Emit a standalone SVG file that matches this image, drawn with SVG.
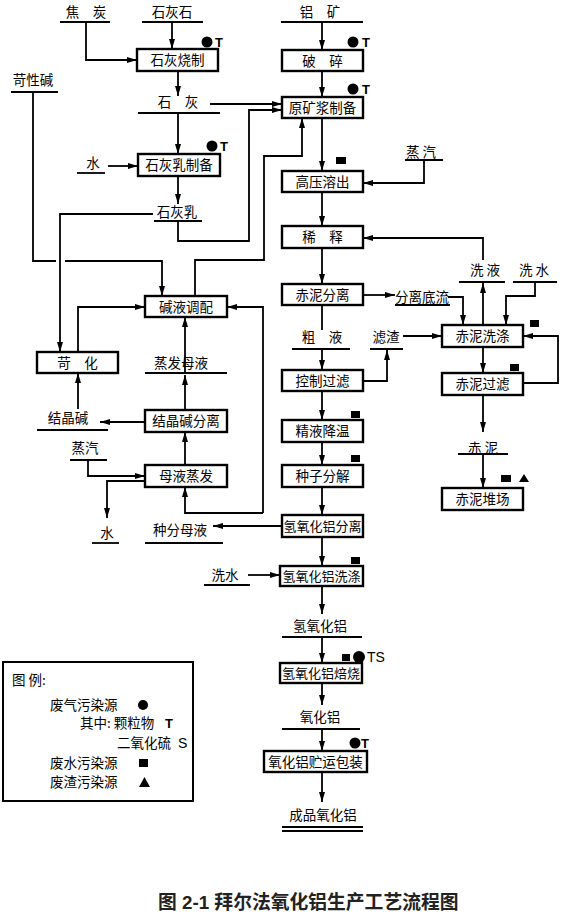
<svg xmlns="http://www.w3.org/2000/svg" width="562" height="914" viewBox="0 0 562 914">
<defs>
<marker id="a" markerWidth="10" markerHeight="8" refX="10" refY="4" orient="auto" markerUnits="userSpaceOnUse"><path d="M0,1 L10,4 L0,7 Z" fill="#000"/></marker>
<style>
.box{fill:#fff;stroke:#000;stroke-width:2.4}
.ln{fill:none;stroke:#000;stroke-width:1.8}
.ul{fill:none;stroke:#000;stroke-width:1.8}
.t{font-family:"Noto Sans CJK SC","Noto Sans CJK JP",sans-serif;font-size:13.5px;text-anchor:middle;fill:#000}
.s{font-size:13px}
.l{font-family:"Noto Sans CJK SC",sans-serif;font-size:13.5px;fill:#000}
.m{font-family:"Liberation Sans",Arial,sans-serif;font-size:13px;font-weight:bold;fill:#000}
.cap{font-family:"Liberation Sans","Noto Sans CJK SC",sans-serif;font-size:18.8px;font-weight:bold;fill:#222}
</style>
</defs>
<rect width="562" height="914" fill="#fff"/>

<g id="connectors" class="ln">
<path d="M86,22 V60 H137" marker-end="url(#a)"/>
<path d="M172,22 V49" marker-end="url(#a)"/>
<path d="M178,71 V96" marker-end="url(#a)"/>
<path d="M210,104 H282" marker-end="url(#a)"/>
<path d="M178,113 V154" marker-end="url(#a)"/>
<path d="M108,166 H138" marker-end="url(#a)"/>
<path d="M178,176 V204" marker-end="url(#a)"/>
<path d="M178,221 V241 H249 V110 H282" marker-end="url(#a)"/>
<path d="M153,214 H60 V352" marker-end="url(#a)"/>
<path d="M33,92 V261 H56 M65,261 H162 V296" marker-end="url(#a)"/>
<path d="M195,296 V260 H264 V156 H302 V118" marker-end="url(#a)"/>
<path d="M78,352 V307 H145" marker-end="url(#a)"/>
<path d="M263,513 V307 H227" marker-end="url(#a)"/>
<path d="M263,513 H185 V487" marker-end="url(#a)"/>
<path d="M185,373 V317" marker-end="url(#a)"/>
<path d="M185,410 V375" marker-end="url(#a)"/>
<path d="M185,465 V432" marker-end="url(#a)"/>
<path d="M145,422 H100" marker-end="url(#a)"/>
<path d="M78,409 V373" marker-end="url(#a)"/>
<path d="M88,460 V476 H145" marker-end="url(#a)"/>
<path d="M145,481 H107 V518" marker-end="url(#a)"/>
<path d="M282,526 H213" marker-end="url(#a)"/>
<path d="M322,22 V50" marker-end="url(#a)"/>
<path d="M322,71 V97" marker-end="url(#a)"/>
<path d="M322,118 V171" marker-end="url(#a)"/>
<path d="M424,160 V183 H363" marker-end="url(#a)"/>
<path d="M322,192 V226" marker-end="url(#a)"/>
<path d="M483,260 V238 H363" marker-end="url(#a)"/>
<path d="M322,248 V284" marker-end="url(#a)"/>
<path d="M363,295 H395" marker-end="url(#a)"/>
<path d="M448,297 H463 V325" marker-end="url(#a)"/>
<path d="M483,325 V283" marker-end="url(#a)"/>
<path d="M535,282 V296 H506 V325" marker-end="url(#a)"/>
<path d="M322,305 V330"/>
<path d="M322,349 V370" marker-end="url(#a)"/>
<path d="M363,381 H387 V350" marker-end="url(#a)"/>
<path d="M403,336 H442" marker-end="url(#a)"/>
<path d="M483,347 V373" marker-end="url(#a)"/>
<path d="M523,383 H558 V336 H523" marker-end="url(#a)"/>
<path d="M322,391 V420" marker-end="url(#a)"/>
<path d="M322,442 V465" marker-end="url(#a)"/>
<path d="M322,487 V515" marker-end="url(#a)"/>
<path d="M322,537 V566" marker-end="url(#a)"/>
<path d="M248,575 H280" marker-end="url(#a)"/>
<path d="M322,586 V614" marker-end="url(#a)"/>
<path d="M322,637 V663" marker-end="url(#a)"/>
<path d="M322,683 V705" marker-end="url(#a)"/>
<path d="M322,729 V751" marker-end="url(#a)"/>
<path d="M322,772 V802" marker-end="url(#a)"/>
<path d="M483,395 V432" marker-end="url(#a)"/>
<path d="M483,454 V488" marker-end="url(#a)"/>
</g>

<g id="labels">
<g id="l-jiaotan"><path class="ul" d="M60,22 H110"/><text class="t" x="86" y="17">焦　炭</text></g>
<g id="l-shihuishi"><path class="ul" d="M142,22 H203"/><text class="t" x="172" y="17">石灰石</text></g>
<g id="l-lvkuang"><path class="ul" d="M281,22 H363"/><text class="t" x="320" y="17">铝　矿</text></g>
<g id="l-kexingjian"><path class="ul" d="M11,92 H58"/><text class="t" x="33" y="85">苛性碱</text></g>
<g id="l-shihui"><path class="ul" d="M138,113 H220"/><text class="t" x="178" y="107">石　灰</text></g>
<g id="l-shui1"><path class="ul" d="M77,173 H105"/><text class="t" x="93" y="168">水</text></g>
<g id="l-shihuiru"><path class="ul" d="M154,221 H202"/><text class="t" x="177" y="217">石灰乳</text></g>
<g id="l-zhengqi1"><path class="ul" d="M405,160 H443"/><text class="t" x="421" y="157">蒸 汽</text></g>
<g id="l-xiye"><path class="ul" d="M459,282 H505"/><text class="t" x="485" y="275">洗 液</text></g>
<g id="l-xishui1"><path class="ul" d="M513,282 H557"/><text class="t" x="534" y="275">洗 水</text></g>
<g id="l-fenlidiliu"><path class="ul" d="M395,305 H450"/><text class="t" x="422" y="302">分离底流</text></g>
<g id="l-cuye"><path class="ul" d="M292,349 H350"/><text class="t" x="322" y="342">粗　液</text></g>
<g id="l-lvzha"><path class="ul" d="M370,349 H403"/><text class="t" x="386" y="342">滤渣</text></g>
<g id="l-zhengfamuye"><path class="ul" d="M145,373 H227"/><text class="t" x="181" y="368">蒸发母液</text></g>
<g id="l-jiejingjian"><path class="ul" d="M37,430 H108"/><text class="t" x="68" y="423">结晶碱</text></g>
<g id="l-zhengqi2"><path class="ul" d="M70,460 H107"/><text class="t" x="85" y="453">蒸汽</text></g>
<g id="l-chini"><path class="ul" d="M458,454 H508"/><text class="t" x="483" y="453">赤 泥</text></g>
<g id="l-shui2"><path class="ul" d="M92,543 H119"/><text class="t" x="107" y="538">水</text></g>
<g id="l-zhongfenmuye"><path class="ul" d="M145,543 H223"/><text class="t" x="180" y="535">种分母液</text></g>
<g id="l-xishui2"><path class="ul" d="M204,585 H250"/><text class="t" x="225" y="580">洗水</text></g>
<g id="l-qyhl"><path class="ul" d="M282,637 H362"/><text class="t" x="320" y="631">氢氧化铝</text></g>
<g id="l-yhl"><path class="ul" d="M282,729 H360"/><text class="t" x="320" y="722">氧化铝</text></g>
<g id="l-chengpin"><path class="ul" d="M282,827 H363 M282,831 H363"/><text class="t" x="323" y="820">成品氧化铝</text></g>
</g>

<g id="nodes">
<g id="n-shihuishaozhi"><rect class="box" x="137" y="49" width="81" height="22"/><text class="t" x="177.5" y="65">石灰烧制</text></g>
<g id="n-posui"><rect class="box" x="282" y="50" width="81" height="21"/><text class="t" x="322.5" y="65.5">破　碎</text></g>
<g id="n-yuankuangjiang"><rect class="box" x="282" y="97" width="81" height="21"/><text class="t" x="322.5" y="112.5">原矿浆制备</text></g>
<g id="n-shihuiru"><rect class="box" x="138" y="154" width="82" height="22"/><text class="t" x="179" y="170">石灰乳制备</text></g>
<g id="n-gaoya"><rect class="box" x="282" y="171" width="81" height="21"/><text class="t" x="322.5" y="186.5">高压溶出</text></g>
<g id="n-xishi"><rect class="box" x="282" y="226" width="81" height="22"/><text class="t" x="322.5" y="242">稀　释</text></g>
<g id="n-chinifenli"><rect class="box" x="282" y="284" width="81" height="21"/><text class="t" x="322.5" y="299.5">赤泥分离</text></g>
<g id="n-jianyetiaopei"><rect class="box" x="145" y="296" width="82" height="21"/><text class="t" x="186" y="311.5">碱液调配</text></g>
<g id="n-chinixidi"><rect class="box" x="442" y="325" width="81" height="22"/><text class="t" x="482.5" y="341">赤泥洗涤</text></g>
<g id="n-kehua"><rect class="box" x="37" y="352" width="81" height="21"/><text class="t" x="77.5" y="367.5">苛　化</text></g>
<g id="n-kongzhiguolv"><rect class="box" x="282" y="370" width="81" height="21"/><text class="t" x="322.5" y="385.5">控制过滤</text></g>
<g id="n-chiniguolv"><rect class="box" x="442" y="373" width="81" height="22"/><text class="t" x="482.5" y="389">赤泥过滤</text></g>
<g id="n-jiejingjianfenli"><rect class="box" x="145" y="410" width="82" height="22"/><text class="t" x="186" y="426">结晶碱分离</text></g>
<g id="n-jingyejiangwen"><rect class="box" x="282" y="420" width="81" height="22"/><text class="t" x="322.5" y="436">精液降温</text></g>
<g id="n-muyezhengfa"><rect class="box" x="145" y="465" width="82" height="22"/><text class="t" x="186" y="481">母液蒸发</text></g>
<g id="n-zhongzifenjie"><rect class="box" x="282" y="465" width="81" height="22"/><text class="t" x="322.5" y="481">种子分解</text></g>
<g id="n-chiniduichang"><rect class="box" x="442" y="488" width="81" height="22"/><text class="t" x="482.5" y="504">赤泥堆场</text></g>
<g id="n-qyhlfenli"><rect class="box" x="282" y="515" width="81" height="22"/><text class="t s" x="322.5" y="531">氢氧化铝分离</text></g>
<g id="n-qyhlxidi"><rect class="box" x="280" y="566" width="83" height="20"/><text class="t s" x="321.5" y="581">氢氧化铝洗涤</text></g>
<g id="n-qyhlbeishao"><rect class="box" x="280" y="663" width="82" height="20"/><text class="t s" x="321" y="678">氢氧化铝焙烧</text></g>
<g id="n-zhuyunbaozhuang"><rect class="box" x="264" y="751" width="103" height="21"/><text class="t" x="315.5" y="766.5">氧化铝贮运包装</text></g>
</g>

<g id="pollution">
<circle cx="207" cy="42" r="5.5"/><text class="m" x="215" y="47">T</text>
<circle cx="212" cy="146" r="5.5"/><text class="m" x="220" y="151">T</text>
<circle cx="353" cy="42" r="5.5"/><text class="m" x="362" y="47">T</text>
<circle cx="353" cy="89" r="5.5"/><text class="m" x="362" y="94">T</text>
<rect x="336" y="157" width="10" height="7"/>
<rect x="530" y="320" width="9" height="7"/>
<rect x="510" y="364" width="9" height="7"/>
<rect x="351" y="411" width="9" height="7"/>
<rect x="351" y="455" width="9" height="7"/>
<rect x="351" y="557" width="9" height="7"/>
<rect x="501" y="475" width="10" height="7"/><path d="M519,482 L524,474 L529,482 Z"/>
<rect x="342" y="654" width="8" height="7"/><circle cx="359" cy="657" r="6"/><text class="m" x="367" y="662" style="font-weight:normal;font-size:14px">TS</text>
<circle cx="355" cy="743" r="5.5"/><text class="m" x="361" y="748">T</text>
</g>

<g id="legend">
<rect x="3" y="662" width="190" height="139" fill="none" stroke="#000" stroke-width="2"/>
<text class="l" x="12" y="685">图 例:</text>
<text class="l" x="50" y="710">废气污染源</text><circle cx="143" cy="705" r="5"/>
<text class="l" x="80" y="728">其中: 颗粒物</text><text class="m" x="165" y="728">T</text>
<text class="l" x="117" y="748">二氧化硫</text><text class="m" x="178" y="748" style="font-weight:normal;font-size:14px">S</text>
<text class="l" x="50" y="768">废水污染源</text><rect x="139" y="759" width="9" height="8"/>
<text class="l" x="50" y="787">废渣污染源</text><path d="M139,787 L144.5,777 L150,787 Z"/>
</g>

<g id="caption">
<text class="cap" x="158" y="909">图 2-1  拜尔法氧化铝生产工艺流程图</text>
</g>
</svg>
